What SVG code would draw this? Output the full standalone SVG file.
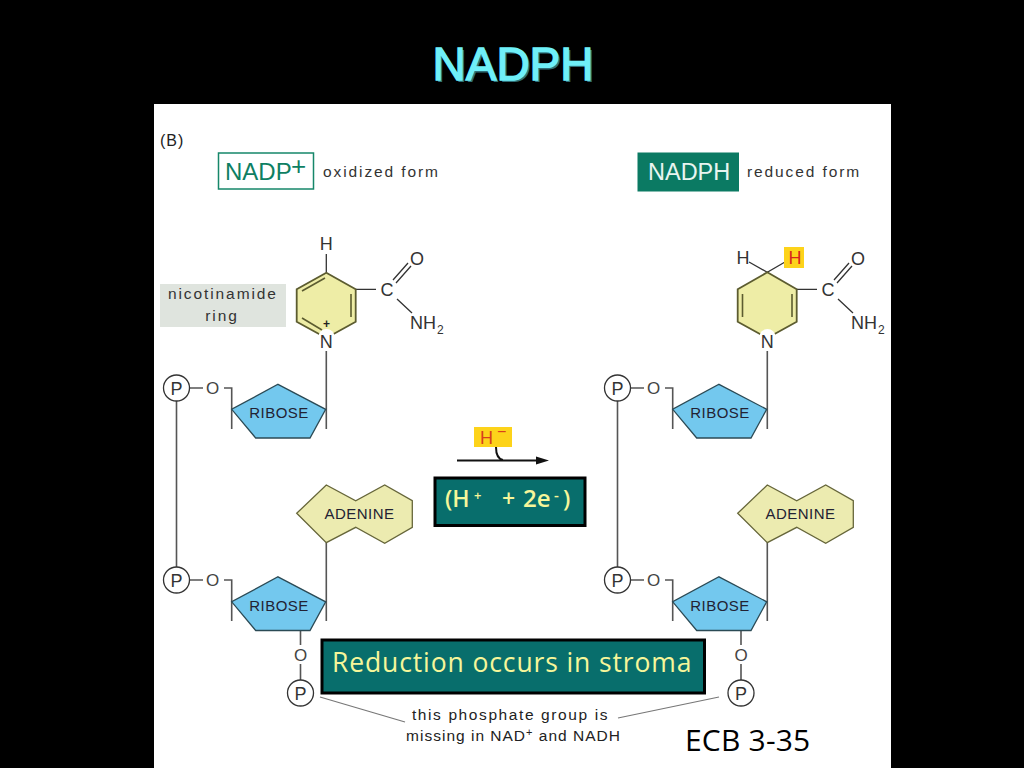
<svg xmlns="http://www.w3.org/2000/svg" width="1024" height="768" viewBox="0 0 1024 768">
<style>
text{font-family:"Liberation Sans",Arial,sans-serif;fill:#222}
.bond{stroke:#555;stroke-width:1.6;fill:none}
.thin{stroke:#333;stroke-width:1.3;fill:none}
.rib{fill:#73c8ee;stroke:#2b4a55;stroke-width:1.3}
.ade{fill:#ecebb0;stroke:#66663a;stroke-width:1.3}
.ring{fill:#eeeda6;stroke:#5c5c30;stroke-width:1.8}
.dbl{stroke:#5c5c30;stroke-width:1.6;fill:none}
.lab{font-size:15px;letter-spacing:.5px;text-anchor:middle;fill:#223}
.atom{font-size:18px;text-anchor:middle;fill:#333}
.sub{font-size:12px;fill:#333}
.pc{fill:#fff;stroke:#333;stroke-width:1.3}
.small{font-size:15.5px;letter-spacing:1.9px;fill:#333}
.o{font-size:17px;text-anchor:middle;fill:#444}
.comic{font-family:"Open Sans","Liberation Sans",sans-serif;fill:#f6f69a}
.tb{fill:#086e6c;stroke:#000;stroke-width:3}
</style>
<defs>
<g id="rib"><polygon class="rib" points="278,384.300 325.700,409.300 310,438 255.700,438 231.700,409.300"/><text class="lab" x="279" y="418">RIBOSE</text></g>
<g id="ade"><polygon class="ade" points="296.700,513.300 326.300,485 355.700,500.700 384.700,485 412.300,500.700 412.300,527.300 384.700,543.300 355.700,527.300 326.300,542.700"/><text class="lab" x="359.500" y="519">ADENINE</text></g>
<g id="p"><circle class="pc" cx="176.500" cy="388" r="13"/><text class="atom" x="176.500" y="394.500">P</text></g>
</defs>
<rect width="1024" height="768" fill="#000"/>
<text x="513" y="80" font-size="46" text-anchor="middle" style="fill:#2f6f78" transform="translate(2 2)">NADPH</text>
<text id="title" x="513" y="80" font-size="46" text-anchor="middle" style="fill:#6ff0f8;stroke:#6ff0f8;stroke-width:1.4">NADPH</text>
<rect x="154" y="104" width="737" height="664" fill="#fff"/>
<text x="160" y="146" font-size="16" letter-spacing="1">(B)</text>

<g id="connectors">
<g id="conn-left">
<path class="bond" d="M176.500 401V567M326.300 351V429M224 388H231.700V429M190 388H203"/>
<path class="bond" d="M326.300 542.700V621M224 580H231.700V621M190 580H203"/>
<path class="bond" d="M300.500 631V645M300.500 664V680"/>
<path class="thin" d="M326.300 272V254M355.700 289.300H376M396 283L411 266M393 280L408 263M397 299L412 313"/>
<path d="M320 697L405 722" stroke="#777" stroke-width="1.2"/>
</g>
<g id="conn-right">
<path class="bond" d="M617.500 401V567M767.300 351V429M665 388H672.700V429M631 388H644"/>
<path class="bond" d="M767.300 542.700V621M665 580H672.700V621M631 580H644"/>
<path class="bond" d="M741 631V645M741 664V680"/>
<path class="thin" d="M749 262L767.300 272.300L785 262M796.700 289.300H817M837 283L852 266M834 280L849 263M838 299L853 313"/>
<path d="M618 718L719 697" stroke="#777" stroke-width="1.2"/>
</g>
<g id="reaction-arrow">
<path d="M457 460.500H537" stroke="#111" stroke-width="2"/>
<polygon points="549,460.500 536,456.500 536,464.500" fill="#111"/>
<path d="M496 447C496 455 498 459 503 460" stroke="#111" stroke-width="2" fill="none"/>
</g>
</g>

<g id="nadp-label"><rect x="218.500" y="153" width="95" height="36" fill="#fff" stroke="#16876a" stroke-width="1.500"/><text x="225" y="180" font-size="24" style="fill:#0e7f63">NADP</text><text x="291" y="175" font-size="26" style="fill:#0e7f63">+</text></g>
<text class="small" x="323" y="177">oxidized form</text>
<g id="nadph-label"><rect x="637.500" y="152.500" width="101.500" height="39" fill="#0b7a63"/><text x="648" y="180" font-size="23.500" style="fill:#e8f5f0">NADPH</text></g>
<text class="small" x="747" y="177">reduced form</text>

<g id="nicotinamide-label"><rect x="160" y="284" width="126" height="43" fill="#dfe4de"/><text class="small" x="168" y="299">nicotinamide</text><text class="small" x="222" y="321" text-anchor="middle">ring</text></g>

<g id="ring-left">
<polygon class="ring" points="326.300,272.700 355.700,289.300 355.700,321.700 326.300,338 296.700,321.700 296.700,289.300"/>
<path class="dbl" d="M351 294V317M325 278L302 291M302 318L322 330"/>
<circle cx="326.500" cy="337" r="8" fill="#fff"/>
<text class="atom" x="326.300" y="250">H</text><text class="atom" x="417" y="265">O</text><text class="atom" x="387" y="296">C</text>
<text class="atom" x="423" y="329">NH</text><text class="sub" x="437" y="334">2</text>
<text x="326.500" y="328" font-size="12" text-anchor="middle" font-weight="bold">+</text><text class="atom" x="326.300" y="348">N</text>
</g>
<g id="ring-right">
<polygon class="ring" points="767.300,272.300 796.700,289.300 796.700,321.700 767.300,338 737.700,321.700 737.700,289.300"/>
<path class="dbl" d="M792 294V317M742.500 294V317"/>
<circle cx="767.500" cy="337" r="8" fill="#fff"/>
<rect x="784" y="247" width="20" height="21" fill="#fdd31a"/>
<text class="atom" x="743" y="264">H</text><text class="atom" x="795" y="264" style="fill:#d8261c">H</text>
<text class="atom" x="858" y="265">O</text><text class="atom" x="828" y="296">C</text>
<text class="atom" x="864" y="329">NH</text><text class="sub" x="878" y="334">2</text>
<text class="atom" x="767.300" y="348">N</text>
</g>

<g id="p-left-1"><use href="#p"/></g>
<g id="p-left-2"><use href="#p" y="192"/></g>
<g id="p-left-3"><use href="#p" x="124" y="305"/></g>
<g id="p-right-1"><use href="#p" x="441"/></g>
<g id="p-right-2"><use href="#p" x="441" y="192"/></g>
<g id="p-right-3"><use href="#p" x="564.500" y="305"/></g>

<g id="ribose-left-1"><use href="#rib"/></g>
<g id="ribose-left-2"><use href="#rib" y="192.500"/></g>
<g id="ribose-right-1"><use href="#rib" x="441"/></g>
<g id="ribose-right-2"><use href="#rib" x="441" y="192.500"/></g>
<g id="adenine-left"><use href="#ade"/></g>
<g id="adenine-right"><use href="#ade" x="441"/></g>

<g id="o-atoms">
<text class="o" x="212.500" y="394">O</text><text class="o" x="212.500" y="586">O</text><text class="o" x="300.500" y="661">O</text>
<text class="o" x="653.500" y="394">O</text><text class="o" x="653.500" y="586">O</text><text class="o" x="741" y="661">O</text>
</g>

<g id="hydride"><rect x="474" y="427" width="38" height="20" fill="#fdd31a"/><text x="480" y="444" font-size="18" style="fill:#d8401c">H</text><text x="497" y="437" font-size="16" style="fill:#d8401c">−</text></g>
<g id="electrons-box"><rect class="tb" x="435" y="478" width="150" height="47.500"/><text class="comic" x="445" y="507" font-size="23" font-weight="600">(H</text><text class="comic" x="474" y="500" font-size="13" font-weight="600">+</text><text class="comic" x="502" y="507" font-size="23" font-weight="600">+</text><text class="comic" x="523" y="507" font-size="24" font-weight="600">2e</text><text class="comic" x="554" y="500" font-size="15" font-weight="600">-</text><text class="comic" x="563" y="507" font-size="23" font-weight="600">)</text></g>
<g id="reduction-box"><rect class="tb" x="322" y="640" width="382.500" height="53"/><text class="comic" x="332" y="672" font-size="26.500" letter-spacing=".88">Reduction occurs in stroma</text></g>
<g id="phosphate-note"><text x="510.500" y="720" font-size="15.500" letter-spacing="1.6" text-anchor="middle">this phosphate group is</text><text x="513.500" y="741" font-size="15.500" letter-spacing="1" text-anchor="middle">missing in NAD<tspan font-size="11" dy="-5">+</tspan><tspan dy="5"> and NADH</tspan></text></g>
<text id="ecb" x="685" y="751" font-size="30" letter-spacing=".2" style="fill:#000;font-family:'Open Sans','Liberation Sans',sans-serif">ECB 3-35</text>
</svg>
